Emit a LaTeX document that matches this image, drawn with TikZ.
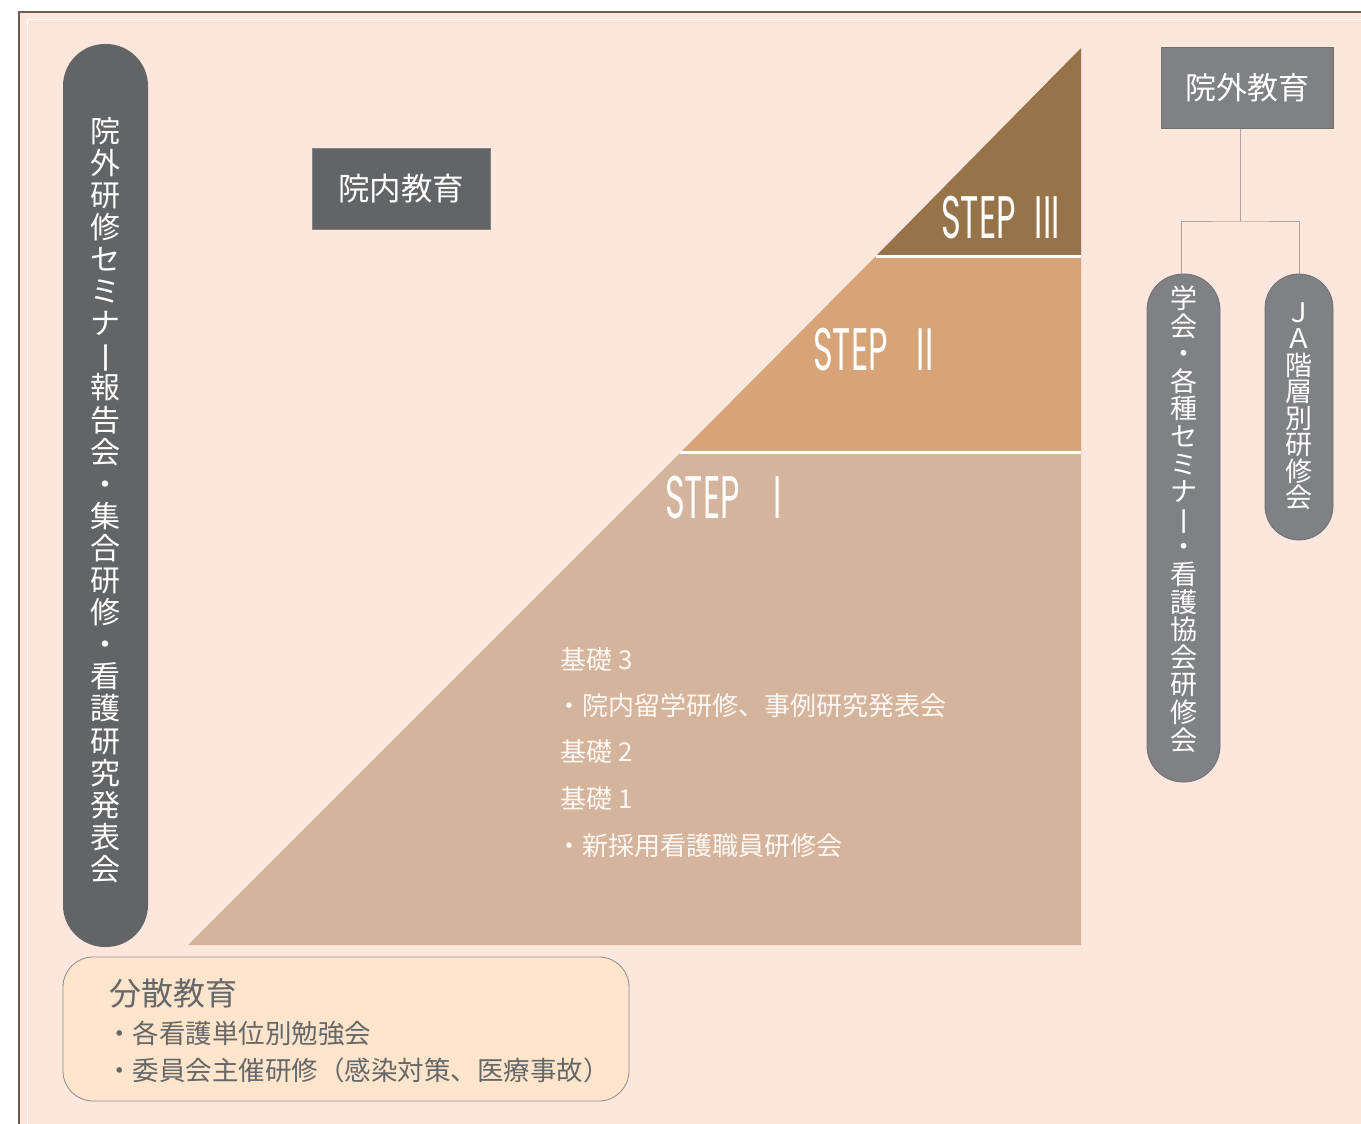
\documentclass[tikz,border=0pt]{standalone}
\usepackage{fontspec}
\usepackage{graphicx}
\newfontfamily\jp{Noto Sans CJK JP}
\newfontfamily\stepfont[FakeStretch=0.56]{Poppins}
\definecolor{bgc}{HTML}{FDE6DC}
\definecolor{dgray}{HTML}{636466}
\definecolor{mgray}{HTML}{808185}
\definecolor{mgrayb}{HTML}{6E6F72}
\definecolor{stepthree}{HTML}{97734A}
\definecolor{steptwo}{HTML}{D6A476}
\definecolor{stepone}{HTML}{D4B49D}
\definecolor{boxfill}{HTML}{FEE5CC}
\definecolor{boxline}{HTML}{8E8A88}
\definecolor{connc}{HTML}{B3A1A0}
\definecolor{framec}{HTML}{6E5B52}
\definecolor{btext}{HTML}{666769}
\definecolor{wtext}{HTML}{FFF8F2}
\newcommand{\vbar}[1]{\makebox[1em]{\hspace{0.4em}\smash{\raisebox{0.08em}{\rotatebox[origin=c]{90}{\scalebox{#1}[1]{ー}}}}}}
\begin{document}
\begin{tikzpicture}[x=1pt,y=-1pt,
  darkbox/.style={fill=dgray,draw=dgray!80!white,line width=0.8pt,text=white,inner sep=0,font=\jp\fontsize{31.5}{33}\selectfont},
  outbox/.style={fill=mgray,draw=mgrayb,line width=1pt,text=white,inner sep=0,font=\jp\fontsize{31}{33}\selectfont},
  pillL/.style={fill=dgray,inner sep=0,rounded corners=42pt},
  pillR/.style={fill=mgray,draw=mgrayb,line width=0.8pt,inner sep=0},
  vtext/.style={text=white,inner sep=0,align=center},
  conn/.style={draw=connc,line width=1pt},
  steplabel/.style={text=white,inner sep=0,anchor=base west,font=\stepfont\fontsize{60}{60}\selectfont},
  inner/.style={text=wtext,inner sep=0,anchor=west,font=\jp\fontsize{26}{28}\selectfont},
  btxt/.style={text=btext,inner sep=0,anchor=west,font=\jp\fontsize{26.5}{28}\selectfont}]
\useasboundingbox (0,0) rectangle (1361,1124);
% frame and background
\fill[bgc] (19,12) rectangle (1361,1124);
\draw[white,line width=1pt] (27,1124) -- (27,20) -- (1361,20);
\draw[framec,line width=1.2pt] (19,1124) -- (19,12) -- (1361,12);
% staircase triangle
\fill[stepone] (188,945) -- (680,453) -- (1081,453) -- (1081,945) -- cycle;
\fill[steptwo] (681,452) -- (876,256) -- (1081,256) -- (1081,452) -- cycle;
\fill[stepthree] (877,255) -- (1081,48) -- (1081,255) -- cycle;
\draw[white,line width=3pt] (876,256) -- (1081,256);
\draw[white,line width=3pt] (680,452.5) -- (1081,452.5);
\node[steplabel] (s3) at (941,238) {STEP\hspace{19pt}III};
\node[steplabel] (s2) at (813,370) {STEP\hspace{29pt}II};
\node[steplabel] (s1) at (665,518) {STEP\hspace{34pt}I};
\node[inner] (k3) at (560,660) {基礎 3};
\node[inner] (k3a) at (556,706) {・院内留学研修、事例研究発表会};
\node[inner] (k2) at (560,752) {基礎 2};
\node[inner] (k1) at (560,799) {基礎 1};
\node[inner] (k1a) at (556,846) {・新採用看護職員研修会};
% left pill
\node[pillL,minimum width=85pt,minimum height=903pt] (lp) at (105.5,495.5) {};
\node[vtext,font=\jp\fontsize{30}{32.1}\selectfont] (lpt) at (105.5,500)
 {院\\外\\研\\修\\セ\\ミ\\ナ\\\vbar{1.1}\\報\\告\\会\\・\\集\\合\\研\\修\\・\\看\\護\\研\\究\\発\\表\\会};
% inner education box
\node[darkbox,minimum width=178pt,minimum height=81pt] (innerbox) at (401,188.5) {院内教育};
% outer education
\node[outbox,minimum width=172pt,minimum height=80pt] (ob) at (1247,88) {院外教育};
\node[pillR,rounded corners=36pt,minimum width=73pt,minimum height=508pt] (p1) at (1183.5,528) {};
\node[vtext,font=\jp\fontsize{27}{27.6}\selectfont] (p1t) at (1183.5,519)
 {学\\会\\・\\各\\種\\セ\\ミ\\ナ\\\vbar{1.1}\\・\\看\\護\\協\\会\\研\\修\\会};
\node[pillR,rounded corners=34pt,minimum width=68pt,minimum height=266pt] (p2) at (1299,407) {};
\node[vtext,font=\jp\fontsize{27}{26.5}\selectfont] (p2t) at (1299,406)
 {Ｊ\\Ａ\\階\\層\\別\\研\\修\\会};
\coordinate (bus) at (1240,221);
\draw[conn] (ob.south -| bus) -- (bus);
\draw[conn] (p1.north -| 1181,0) |- (bus) -| (p2.north);
% distributed education
\node[draw=boxline,fill=boxfill,line width=0.8pt,rounded corners=30pt,minimum width=566pt,minimum height=144pt] (db) at (346,1029) {};
\node[btxt,font=\jp\fontsize{32}{34}\selectfont] (dt) at (109,993) {分散教育};
\node[btxt] (d1) at (106,1033) {・各看護単位別勉強会};
\node[btxt] (d2) at (106,1070) {・委員会主催研修（感染対策、医療事故）};
\end{tikzpicture}
\end{document}
